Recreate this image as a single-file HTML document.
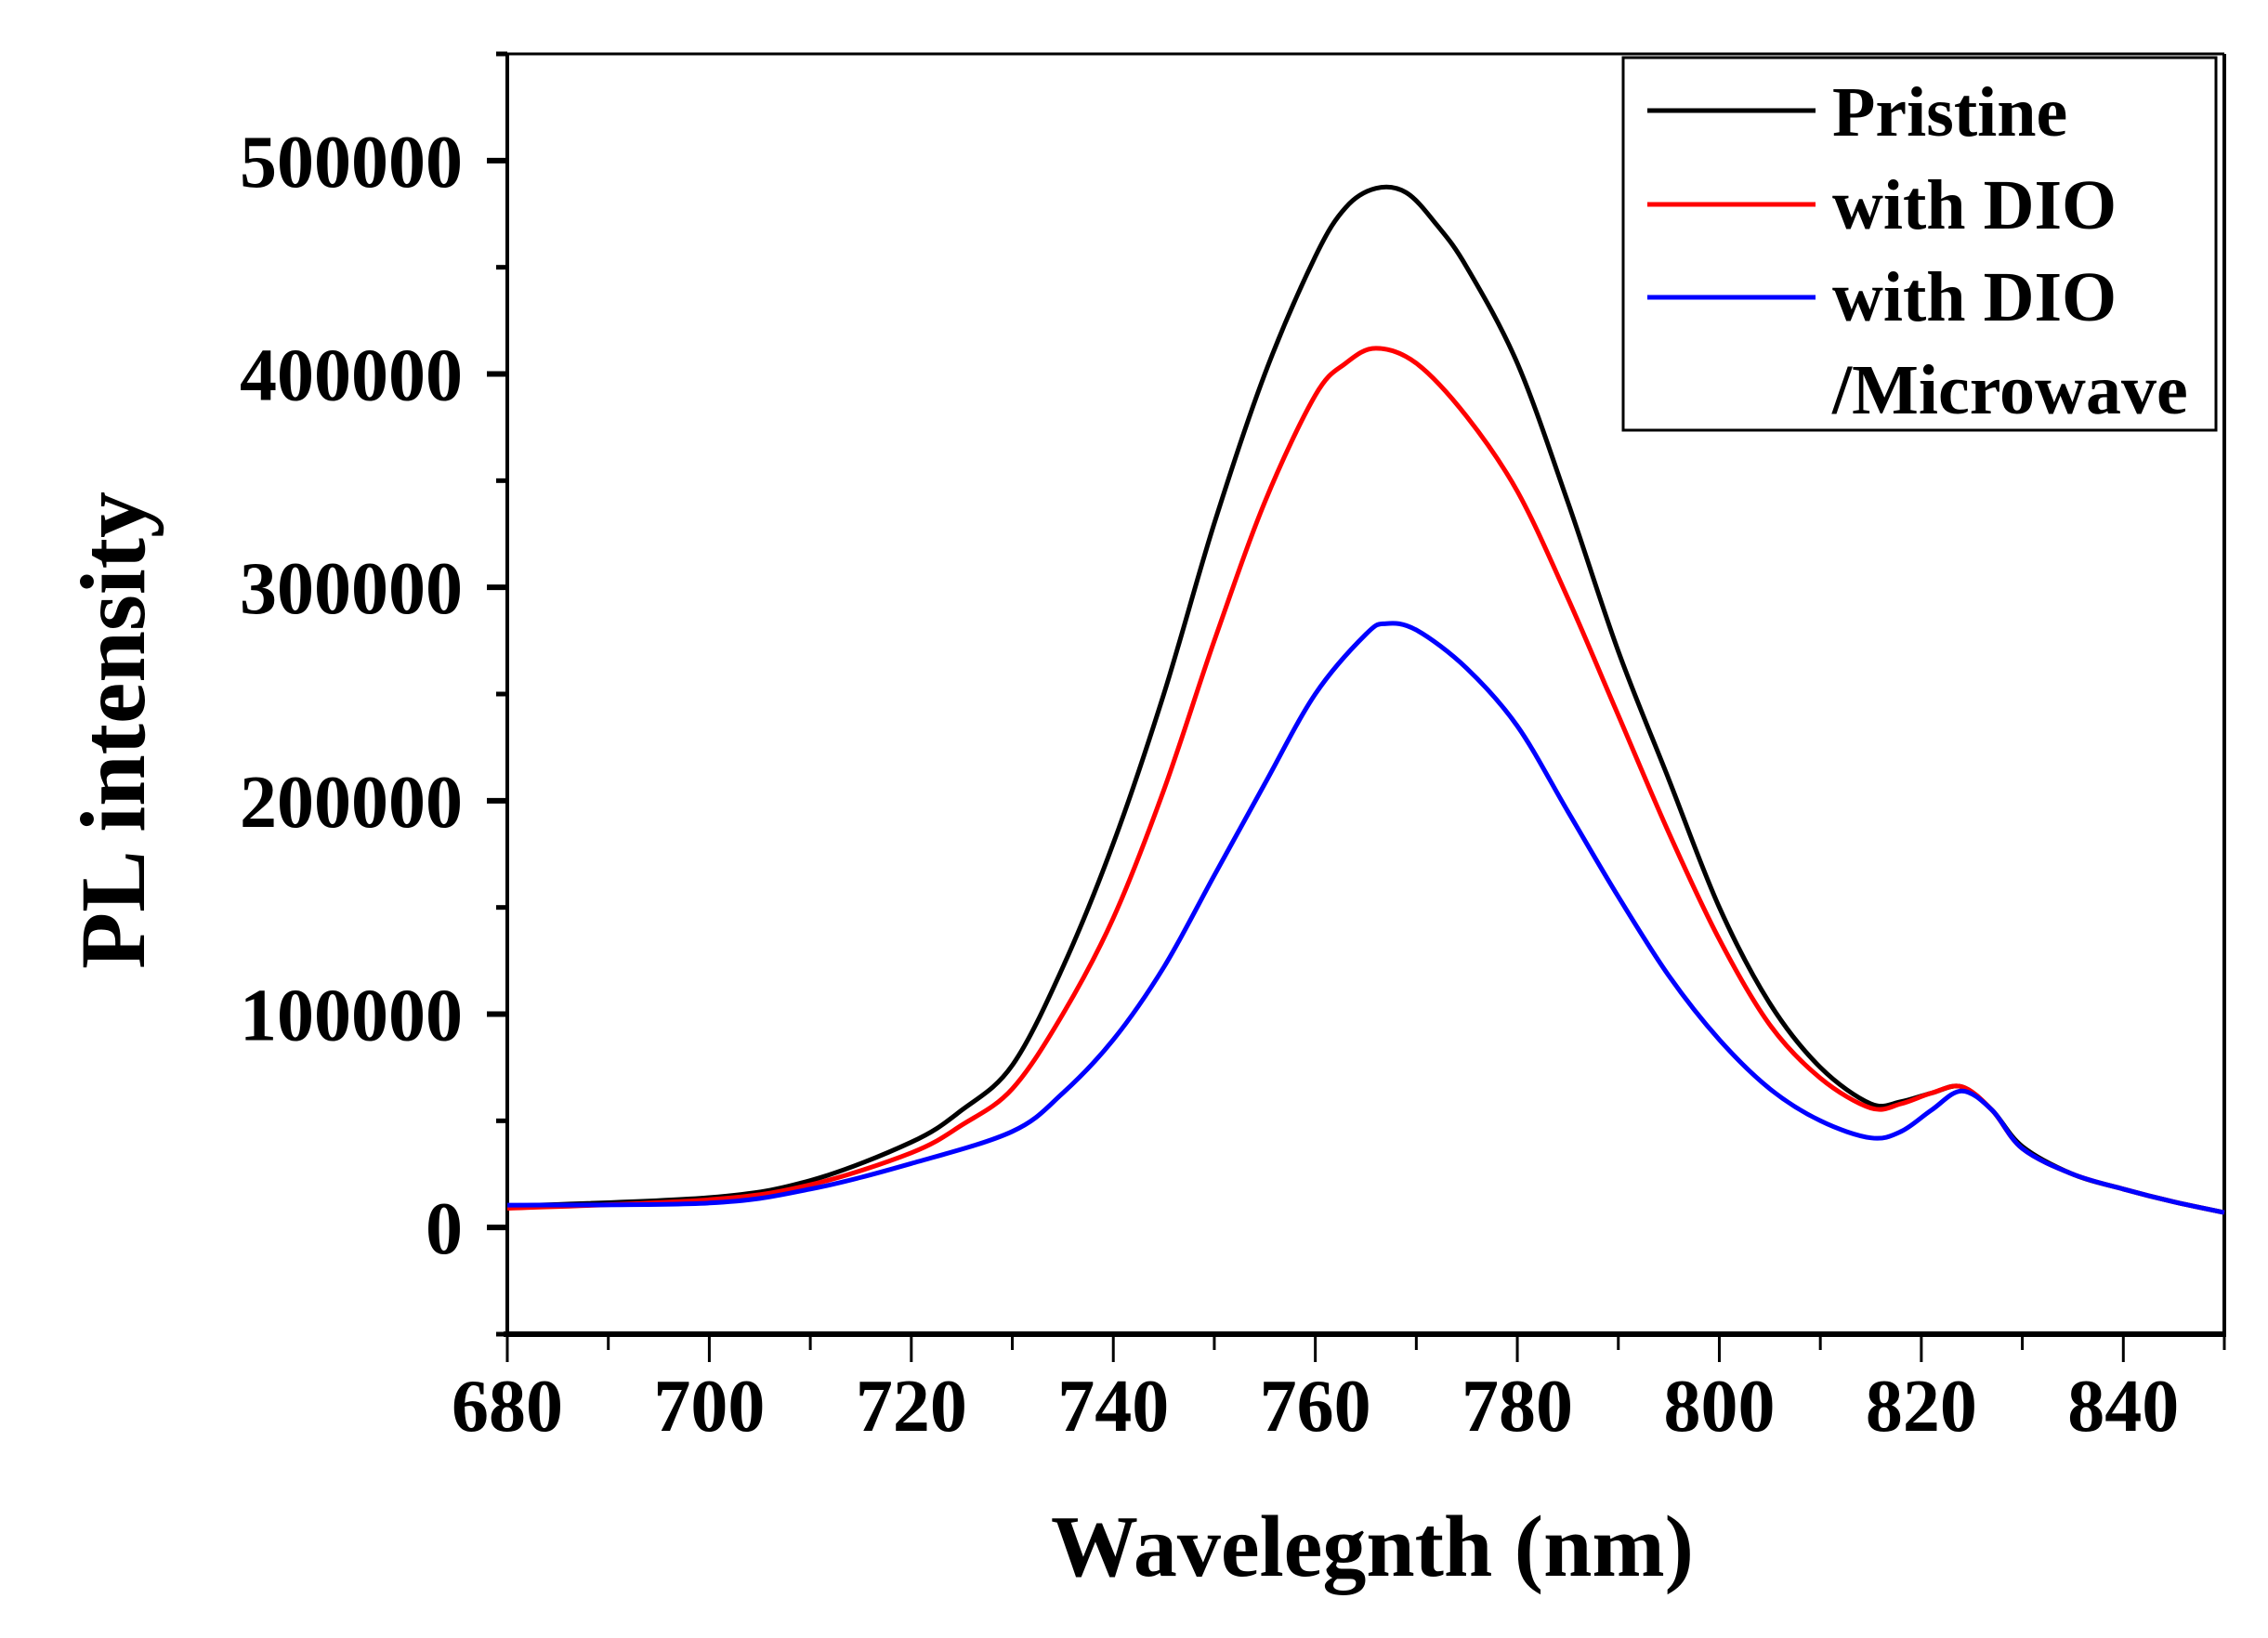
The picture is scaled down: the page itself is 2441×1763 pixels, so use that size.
<!DOCTYPE html>
<html><head><meta charset="utf-8"><style>
body{margin:0;background:#fff}
svg text{font-family:"Liberation Serif",serif;font-weight:bold;fill:#000}
</style></head><body>
<svg id="chart" width="2441" height="1758" xmlns="http://www.w3.org/2000/svg">
<g id="axes"></g>
<g id="series"></g>
<g>
<rect x="1747" y="62" width="638" height="401" fill="#fff" stroke="#000" stroke-width="3"/>
<line x1="1773" y1="119" x2="1954" y2="119" stroke="#000" stroke-width="5"/>
<line x1="1773" y1="220" x2="1954" y2="220" stroke="#f00" stroke-width="5"/>
<line x1="1773" y1="320" x2="1954" y2="320" stroke="#00f" stroke-width="5"/>
<text x="1972" y="146" font-size="76">Pristine</text>
<text x="1972" y="246" font-size="76">with DIO</text>
<text x="1972" y="345" font-size="76">with DIO</text>
<text x="1972" y="445" font-size="76">/Microwave</text>
</g>
<text x="1477" y="1696" font-size="94" text-anchor="middle">Wavelegnth (nm)</text>
<text transform="translate(155,786) rotate(-90)" font-size="100" text-anchor="middle">PL intensity</text>
</svg>
<script>
const xTicks=[680,700,720,740,760,780,800,820,840];
const yTicks=[0,100000,200000,300000,400000,500000];
const wlPristine=[680,700,710,720,725,730,735,740,745,750,755,760,763,766,769,772,775,780,785,790,795,800,805,810,815,818,821,824,827,830,835,840,845,850];
const valPristine=[10000,14000,22000,40000,55000,76000,122000,180000,250000,330000,400000,455000,478000,487000,485000,470000,450000,405000,340000,270000,210000,150000,105000,75000,58000,59000,63000,66000,55000,38000,25000,18000,12000,7000];
const wlDio=[680,700,710,720,725,730,735,740,745,750,755,760,763,766,770,775,780,785,790,795,800,805,810,815,818,821,824,827,830,835,840,845,850];
const valDio=[9000,13000,20000,35000,48000,65000,100000,145000,205000,275000,340000,390000,405000,412000,405000,380000,345000,295000,240000,185000,135000,95000,70000,56000,58000,63000,66000,55000,37000,25000,18000,12000,7000];
const wlMw=[680,700,710,720,730,735,740,745,750,755,760,765,767,770,775,780,785,790,795,800,805,810,815,818,821,824,827,830,835,840,845,850];
const valMw=[10500,11500,18000,30000,45000,63000,88000,122000,165000,208000,250000,278000,283000,280000,262000,235000,195000,155000,118000,88000,65000,50000,42000,45000,55000,64000,55000,37000,25000,18000,12000,7000];
const X0=546,X1=2394,Y0=1436,Y1=58,xmin=680,xmax=850,ymin=-50000,ymax=550000;
const sx=v=>X0+(v-xmin)/(xmax-xmin)*(X1-X0);
const sy=v=>Y0-(v-ymin)/(ymax-ymin)*(Y0-Y1);
const NS='http://www.w3.org/2000/svg';
const ax=document.getElementById('axes'),se=document.getElementById('series');
function mk(p,t,a){const e=document.createElementNS(NS,t);for(const k in a)e.setAttribute(k,a[k]);p.appendChild(e);return e;}
let e;
e=mk(ax,'line',{x1:X0,y1:Y1,x2:X1,y2:Y1,stroke:'#000','stroke-width':3});


e=mk(ax,'line',{x1:X1,y1:Y1,x2:X1,y2:Y0,stroke:'#000','stroke-width':4});


e=mk(ax,'line',{x1:X0,y1:Y1,x2:X0,y2:Y0+3,stroke:'#000','stroke-width':4});


e=mk(ax,'line',{x1:X0-4,y1:Y0,x2:X1+2,y2:Y0,stroke:'#000','stroke-width':6});


for(let v=680;v<=850;v+=10){const maj=(v%20===0);
 e=mk(ax,'line',{x1:sx(v),y1:Y0,x2:sx(v),y2:Y0+(maj?30:17),stroke:'#000','stroke-width':3});
 
 }
xTicks.forEach(v=>{e=mk(ax,'text',{x:sx(v),y:1540,'font-size':80,'text-anchor':'middle'});e.textContent=v;
 
 });
for(let v=-50000;v<=550000;v+=50000){const maj=(v%100000===0);
 e=mk(ax,'line',{x1:X0,y1:sy(v),x2:X0-(maj?22:12),y2:sy(v),stroke:'#000','stroke-width':maj?6:5});
 
 }
yTicks.forEach(v=>{e=mk(ax,'text',{x:498,y:sy(v)+28,'font-size':80,'text-anchor':'end'});e.textContent=v;
 
 });
function line(xs,ys,c,n){
 const P=xs.map((x,i)=>[sx(x),sy(ys[i])]);
 let d='M'+P[0][0].toFixed(1)+','+P[0][1].toFixed(1);
 for(let i=0;i<P.length-1;i++){
  const p0=P[Math.max(0,i-1)],p1=P[i],p2=P[i+1],p3=P[Math.min(P.length-1,i+2)];
  const c1=[p1[0]+(p2[0]-p0[0])/6,p1[1]+(p2[1]-p0[1])/6];
  const c2=[p2[0]-(p3[0]-p1[0])/6,p2[1]-(p3[1]-p1[1])/6];
  d+=' C'+c1[0].toFixed(1)+','+c1[1].toFixed(1)+' '+c2[0].toFixed(1)+','+c2[1].toFixed(1)+' '+p2[0].toFixed(1)+','+p2[1].toFixed(1);
 }
 const l=mk(se,'path',{d:d,fill:'none',stroke:c,'stroke-width':5,'stroke-linejoin':'round'});
 
 }
line(wlPristine,valPristine,'#000','series-pristine');
line(wlDio,valDio,'#f00','series-with-dio');
line(wlMw,valMw,'#00f','series-with-dio-microwave');
</script>
</body></html>
